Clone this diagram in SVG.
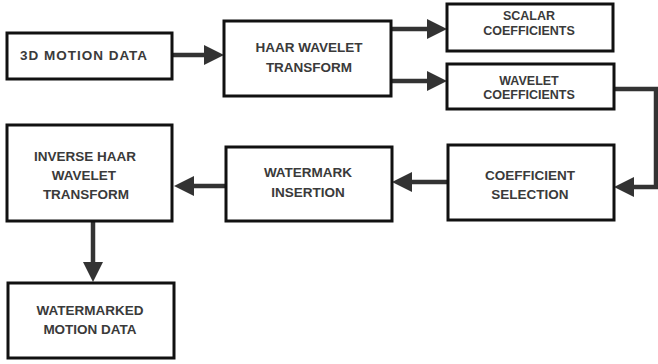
<svg xmlns="http://www.w3.org/2000/svg" width="658" height="364" viewBox="0 0 658 364">
<style>
.box{fill:#fff;stroke:#111;stroke-width:3}
.t{font-family:"Liberation Sans",Arial,sans-serif;font-weight:bold;font-size:13.5px;fill:#3a3a3a;text-anchor:middle}
.s{font-size:12.5px}
.c{fill:none;stroke:#333;stroke-width:4.5}
</style>
<defs>
<marker id="ah" viewBox="0 0 20 20" refX="3" refY="10" markerWidth="20" markerHeight="20" markerUnits="userSpaceOnUse" orient="auto">
<path d="M0,0 L20,10 L0,20 Z" fill="#333"/>
</marker>
</defs>
<g id="connectors">
<path class="c" d="M172,55 H207" marker-end="url(#ah)"/>
<path class="c" d="M391,29 H430" marker-end="url(#ah)"/>
<path class="c" d="M391,81 H430" marker-end="url(#ah)"/>
<path class="c" d="M614,89 H656 V187 H631" marker-end="url(#ah)"/>
<path class="c" d="M448,182 H409" marker-end="url(#ah)"/>
<path class="c" d="M226,186 H191" marker-end="url(#ah)"/>
<path class="c" d="M93,221 V265" marker-end="url(#ah)"/>
</g>
<g id="motion-data">
<rect class="box" x="7" y="33" width="165" height="46"/>
<text class="t" x="84" y="60" letter-spacing="1">3D MOTION DATA</text>
</g>
<g id="haar">
<rect class="box" x="224" y="21" width="167" height="75"/>
<text class="t" x="309" y="52">HAAR WAVELET</text>
<text class="t" x="309" y="72">TRANSFORM</text>
</g>
<g id="scalar">
<rect class="box" x="447" y="4" width="166" height="47"/>
<text class="t s" x="529" y="20">SCALAR</text>
<text class="t s" x="529" y="35">COEFFICIENTS</text>
</g>
<g id="wavelet">
<rect class="box" x="447" y="64" width="167" height="45"/>
<text class="t s" x="529" y="85">WAVELET</text>
<text class="t s" x="529" y="99">COEFFICIENTS</text>
</g>
<g id="selection">
<rect class="box" x="448" y="145" width="166" height="75"/>
<text class="t" x="530" y="180">COEFFICIENT</text>
<text class="t" x="530" y="199">SELECTION</text>
</g>
<g id="insertion">
<rect class="box" x="226" y="147" width="166" height="74"/>
<text class="t" x="308" y="177">WATERMARK</text>
<text class="t" x="308" y="197">INSERTION</text>
</g>
<g id="inverse">
<rect class="box" x="7" y="125" width="165" height="96"/>
<text class="t" x="85" y="161">INVERSE HAAR</text>
<text class="t" x="84" y="180">WAVELET</text>
<text class="t" x="86" y="199">TRANSFORM</text>
</g>
<g id="watermarked">
<rect class="box" x="8" y="283" width="166" height="75"/>
<text class="t" x="90" y="315">WATERMARKED</text>
<text class="t" x="90" y="334">MOTION DATA</text>
</g>
</svg>
